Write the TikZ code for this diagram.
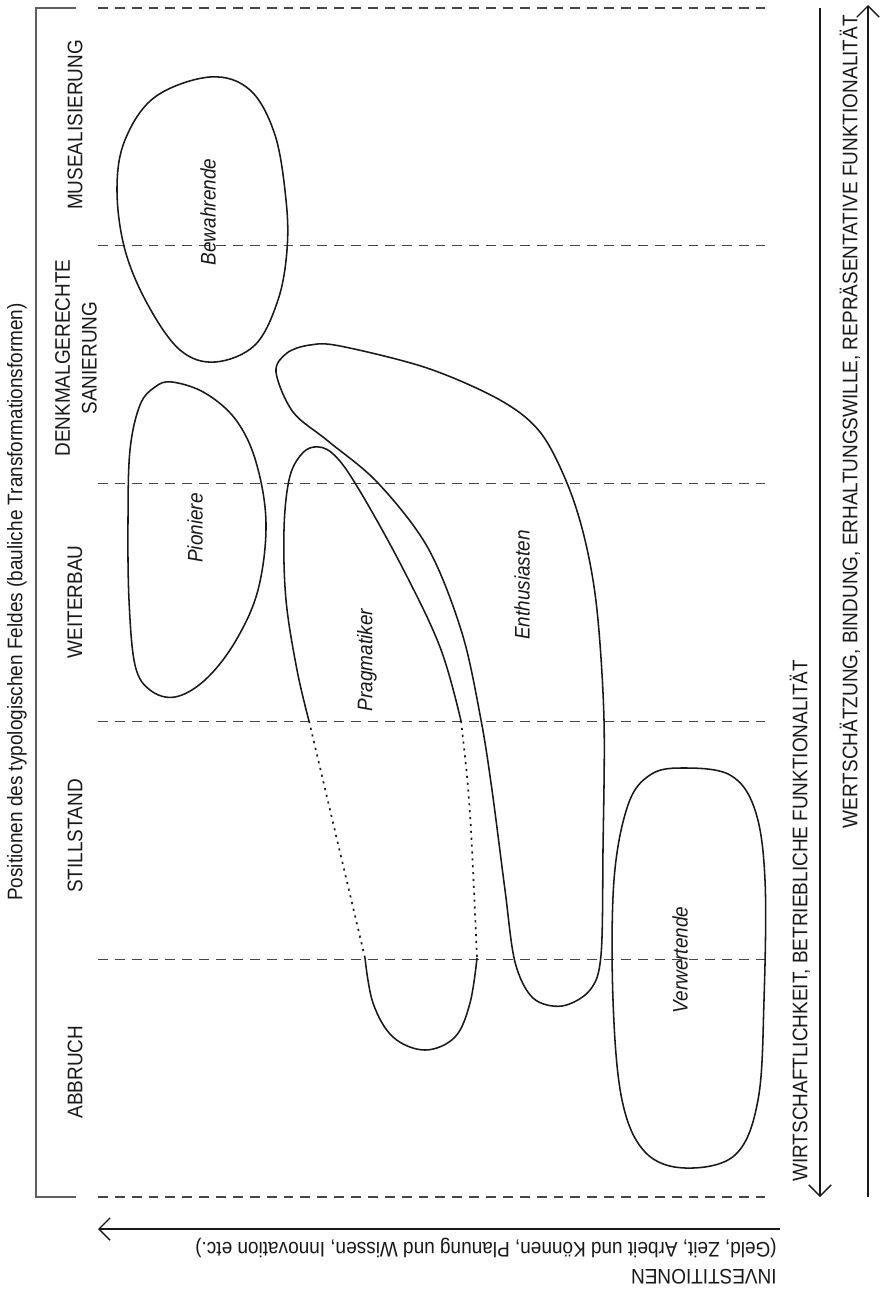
\documentclass[tikz,border=0pt]{standalone}
\usepackage{fontspec}
\setmainfont{Liberation Sans}[FakeStretch=0.9]
\usepackage{tikz}
\usetikzlibrary{arrows.meta}
\definecolor{mInk}{RGB}{25,25,25}
\definecolor{mGrey}{RGB}{70,70,70}
\definecolor{mFrame}{RGB}{95,95,95}

\begin{document}
\begin{tikzpicture}[x=0.025cm,y=-0.025cm,
  blob/.style={draw=mInk,line width=1.1pt},
  gapline/.style={draw=mInk,line width=1.2pt,dash pattern=on 1.5pt off 3.4pt},
  sep/.style={draw=mGrey,line width=0.8pt,dash pattern=on 7pt off 5pt},
  axis/.style={draw=mInk,line width=0.9pt},
  barb/.style={-{Straight Barb[length=8pt,width=16pt,line width=0.9pt]}},
  lbl/.style={text=mInk,inner sep=0pt,font=\fontsize{15}{19}\selectfont},
  col/.style={lbl,rotate=90,align=center},
  grp/.style={lbl,rotate=90,font=\fontsize{15}{19}\selectfont\itshape}]
\useasboundingbox (0,0) rectangle (880,1289);

% frame of the typological field
\draw[mFrame,line width=1.1pt] (76,8) -- (36,8) -- (36,1197) -- (76,1197);
\node[col] (title) at (17,602) {Positionen des typologischen Feldes (bauliche Transformationsformen)};

% field borders
\foreach \i in {0,...,5}
  \draw[sep] (98,{8+237.8*\i}) -- (765,{8+237.8*\i});

% columns
\node[col] (musea) at (75,125) {MUSEALISIERUNG};
\node[col] (denkmal) at (76,358) {DENKMALGERECHTE\\SANIERUNG};
\node[col] (weiter) at (75,602) {WEITERBAU};
\node[col] (still) at (75,836) {STILLSTAND};
\node[col] (abbruch) at (75,1072) {ABBRUCH};

% groups
\draw[blob] plot[smooth cycle,tension=0.6] coordinates {(210,77) (250,90) (275,135) (286,200) (287,250) (278,300) (255,345) (215,362) (180,350) (148,305) (125,250) (117,190) (125,140) (155,97)};
\node[grp] (bewahr) at (208,212) {Bewahrende};

\draw[blob] plot[smooth cycle,tension=0.6] coordinates {(172,382) (205,393) (236,420) (256,462) (266,523) (258,590) (235,642) (205,680) (175,697) (150,690) (135,665) (129,600) (128,520) (130,450) (140,405) (155,387)};
\node[grp] (pionier) at (195,528) {Pioniere};

\draw[blob] plot[smooth cycle,tension=0.55] coordinates {(276,372) (287,353) (310,345) (340,346) (427,368) (500,400) (540,432) (567,483) (585,540) (597,610) (604,720) (603,850) (601,955) (590,990) (562,1006) (533,998) (515,962) (505,890) (492,790) (481,720) (462,633) (428,548) (378,483) (328,441) (293,412)};
\node[grp] (enthus) at (522,585) {Enthusiasten};

\coordinate (pL) at (309,721);
\coordinate (pR) at (461,721);
\coordinate (qL) at (365,958);
\coordinate (qR) at (477,958);
\draw[blob] plot[smooth,tension=0.6] coordinates {(pL) (297,670) (286,600) (284,530) (289,480) (300,456) (314,447) (332,453) (355,483) (400,563) (440,647) (pR)};
\draw[gapline] (pR) .. controls (470,800) .. (qR);
\draw[gapline] (pL) -- (qL);
\draw[blob] plot[smooth,tension=0.6] coordinates {(qL) (373,1003) (393,1037) (425,1050) (455,1037) (470,1003) (qR)};
\node[grp] (pragma) at (367,660) {Pragmatiker};

\draw[blob] plot[smooth cycle,tension=0.6] coordinates {(682,768) (730,775) (755,810) (765,880) (764,1000) (758,1100) (735,1155) (685,1168) (645,1152) (622,1100) (613,1000) (614,880) (628,805) (650,775)};
\node[grp] (verwert) at (680,960) {Verwertende};

% axes
\coordinate (aTop) at (820,8);
\coordinate (aBot) at (820,1197);
\coordinate (bBot) at (868,1197);
\coordinate (bTop) at (868,5);
\coordinate (cRight) at (780,1229);
\coordinate (cLeft) at (98,1229);
\draw[axis,barb] (aTop) -- (aBot);
\draw[axis,barb] (bBot) -- (bTop);
\draw[axis,barb] (cRight) -- (cLeft);
\node[lbl,rotate=90,anchor=west] (wirt) at (800,1182) {WIRTSCHAFTLICHKEIT, BETRIEBLICHE FUNKTIONALITÄT};
\node[lbl,rotate=90,anchor=east] (wert) at (850,15) {WERTSCHÄTZUNG, BINDUNG, ERHALTUNGSWILLE, REPRÄSENTATIVE FUNKTIONALITÄT};
\node[lbl,rotate=180,align=left,anchor=north west] (invest) at (777,1284) {INVESTITIONEN\\(Geld, Zeit, Arbeit und Können, Planung und Wissen, Innovation etc.)};
\end{tikzpicture}
\end{document}
